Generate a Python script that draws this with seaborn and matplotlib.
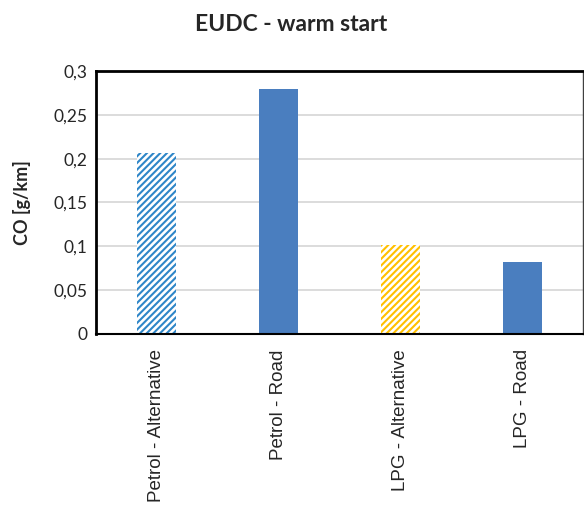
import matplotlib
matplotlib.use("Agg")
import matplotlib.pyplot as plt
import seaborn as sns
import pandas as pd
from matplotlib.ticker import FuncFormatter

categories = ["Petrol - Alternative", "Petrol - Road", "LPG - Alternative", "LPG - Road"]
co_values = [0.207, 0.280, 0.101, 0.082]
bar_colors = ["#2E86C8", "#4A7EBF", "#FFC000", "#4A7EBF"]
hatched = [True, False, True, False]
y_ticks = [0, 0.05, 0.1, 0.15, 0.2, 0.25, 0.3]

df = pd.DataFrame({"category": categories, "co": co_values})

sns.set_theme(style="white")
plt.rcParams["font.family"] = ["Liberation Sans", "DejaVu Sans"]
plt.rcParams["hatch.linewidth"] = 1.5

fig = plt.figure(figsize=(5.84, 5.12), dpi=100)
ax = fig.add_axes([0.1644, 0.3477, 0.8340, 0.5136])

sns.barplot(data=df, x="category", y="co", hue="category",
            palette=bar_colors, width=0.32, legend=False, ax=ax,
            saturation=1)

for patch, color, h in zip(ax.patches, bar_colors, hatched):
    if h:
        patch.set_facecolor("white")
        patch.set_edgecolor(color)
        patch.set_hatch("/////")
        patch.set_linewidth(0)
    else:
        patch.set_edgecolor("none")

ax.set_ylim(0, 0.3)
ax.set_yticks(y_ticks)
ax.yaxis.set_major_formatter(FuncFormatter(lambda v, p: ("%g" % round(v, 2)).replace(".", ",")))
ax.grid(axis="y", color="#D9D9D9", linewidth=1.3)
ax.set_axisbelow(True)

for side in ["left", "top"]:
    ax.spines[side].set_color("black")
    ax.spines[side].set_linewidth(2)
ax.spines["right"].set_color("#404040")
ax.spines["right"].set_linewidth(1)
ax.spines["bottom"].set_color("black")
ax.spines["bottom"].set_linewidth(1.5)

ax.tick_params(axis="y", labelsize=12.5, length=0, pad=6)
ax.tick_params(axis="x", labelsize=13.5, length=0, pad=11)
plt.setp(ax.get_yticklabels(), family=["Lato", "DejaVu Sans"])
plt.setp(ax.get_xticklabels(), rotation=90, va="top", ha="center")

ax.set_xlabel("")
ax.set_ylabel("CO [g/km]", fontsize=13, fontweight="bold",
              family=["Lato", "DejaVu Sans"], labelpad=16)
fig.text(0.498, 0.953, "EUDC - warm start", ha="center", va="center",
         fontsize=16.5, fontweight="bold", family=["Lato", "DejaVu Sans"])

fig.savefig("out.png", dpi=100, facecolor="white")
